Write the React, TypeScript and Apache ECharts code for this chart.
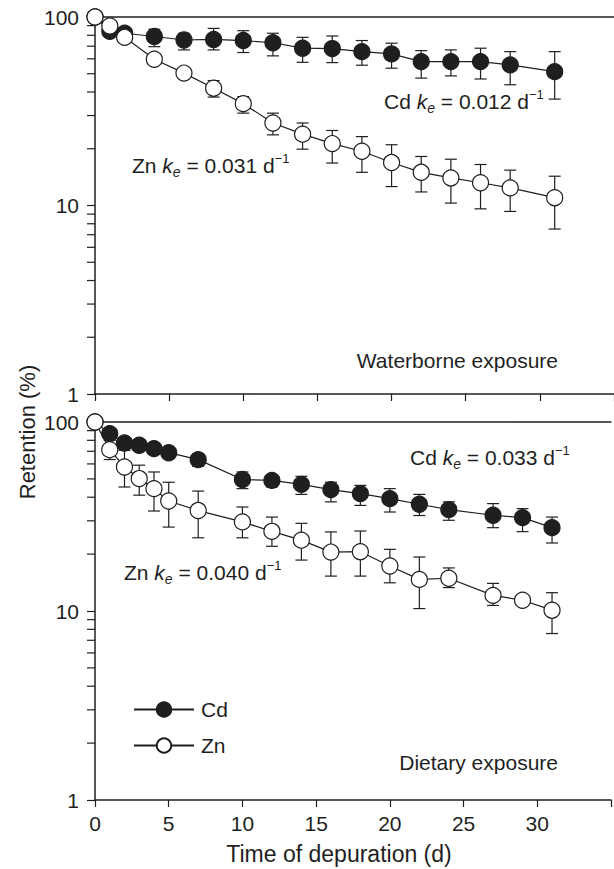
import React, { useEffect, useRef } from 'react';
import * as echarts from 'echarts';

// ---------- data ----------
const waterDays = [0, 1, 2, 4, 6, 8, 10, 12, 14, 16, 18, 20, 22, 24, 26, 28, 31];
const waterCd = [100, 84, 82, 78.8, 75.5, 76, 75, 73, 68.3, 68, 65.5, 63.7, 58, 58, 58, 55.7, 51.3];
const waterCdLow = [100, 84, 82, 69.6, 66.9, 66.9, 64.8, 62.2, 57.5, 57.3, 55.5, 53.5, 47.4, 48.7, 46.9, 43.7, 36.7];
const waterCdHigh = [100, 84, 82, 86.1, 82, 87, 84.6, 82, 78, 79.3, 75, 72.6, 66.3, 66.9, 68.3, 65.5, 65.5];
const waterZn = [100, 89.6, 78, 59.7, 50.4, 41.9, 34.7, 27.4, 23.9, 21.3, 19.4, 16.9, 15.0, 14.0, 13.2, 12.4, 11.0];
const waterZnLow = [100, 89.6, 78, 57, 47, 37.6, 30.9, 23.7, 19.9, 16.8, 15, 12.6, 11.8, 10.3, 9.6, 9.3, 7.5];
const waterZnHigh = [100, 89.6, 78, 62, 53, 46, 37.8, 30.9, 27.4, 25, 23.2, 21, 18.2, 17.6, 16.5, 15.4, 14.3];

const dietDays = [0, 1, 2, 3, 4, 5, 7, 10, 12, 14, 16, 18, 20, 22, 24, 27, 29, 31];
const dietCd = [100, 86.8, 77.4, 75.3, 72.3, 68.8, 63.2, 49.6, 49.1, 46.8, 43.9, 41.8, 39.3, 36.7, 34.4, 32.1, 31.2, 27.6];
const dietCdLow = [100, 83, 73, 71, 68, 64.5, 58.3, 44.4, 45.3, 41.4, 37.8, 36.2, 33.4, 32.0, 30.2, 27.6, 26.3, 22.9];
const dietCdHigh = [100, 90, 82, 79.5, 77, 73, 68, 54.4, 51.2, 51.6, 48, 46.2, 44.4, 41.4, 37.8, 37, 34.8, 31.4];
const dietZn = [100, 71.4, 57.8, 50.2, 44.4, 38.2, 34.0, 29.6, 26.4, 23.7, 20.5, 20.6, 17.3, 14.7, 14.9, 12.1, 11.4, 10.1];
const dietZnLow = [100, 63.3, 45.3, 41.0, 33.8, 27.8, 24.4, 24.4, 22.0, 18.6, 15.3, 15.3, 14.1, 10.3, 13.3, 10.7, 11.4, 7.6];
const dietZnHigh = [100, 80, 70.8, 59.1, 54.4, 48, 43.1, 35.5, 31.4, 29.1, 26.2, 26.5, 21.2, 19.3, 16.9, 14.0, 11.4, 12.5];

const minorTickValues = [2, 3, 4, 5, 6, 7, 8, 9, 20, 30, 40, 50, 60, 70, 80, 90];

const panelNames = ['Waterborne exposure', 'Dietary exposure'];
const kLabels = [
  { metal: 'Cd', k: '0.012' },
  { metal: 'Zn', k: '0.031' },
  { metal: 'Cd', k: '0.033' },
  { metal: 'Zn', k: '0.040' },
];

const FONT = '"Liberation Sans", Arial, Helvetica, sans-serif';
const INK = '#1f1f1f';
const FS = 21;

function errorRender(params: any, api: any) {
  const x = api.value(0);
  const lo = api.value(1);
  const hi = api.value(2);
  if (hi - lo < 1e-6) return { type: 'group', children: [] };
  const a = api.coord([x, lo]);
  const b = api.coord([x, hi]);
  const w = 6;
  const st = { stroke: INK, lineWidth: 1.2 };
  return {
    type: 'group',
    children: [
      { type: 'line', shape: { x1: a[0], y1: a[1], x2: b[0], y2: b[1] }, style: st },
      { type: 'line', shape: { x1: a[0] - w, y1: a[1], x2: a[0] + w, y2: a[1] }, style: st },
      { type: 'line', shape: { x1: b[0] - w, y1: b[1], x2: b[0] + w, y2: b[1] }, style: st },
    ],
  };
}

function minorTickRender(params: any, api: any) {
  const p = api.coord([0, api.value(1)]);
  return {
    type: 'line',
    shape: { x1: p[0] - 8, y1: p[1], x2: p[0], y2: p[1] },
    style: { stroke: INK, lineWidth: 1.2 },
  };
}

function kText(metal: string, k: string) {
  return `${metal} {i|k}{sub|e} = ${k} d{sup|−1}`;
}

const rich = {
  i: { fontStyle: 'italic', fontSize: FS, fontFamily: FONT, fill: INK, lineHeight: 27 },
  sub: { fontStyle: 'italic', fontSize: 14, fontFamily: FONT, fill: INK, lineHeight: 14, verticalAlign: 'bottom' },
  sup: { fontSize: 13, fontFamily: FONT, fill: INK, lineHeight: 13, verticalAlign: 'top' },
};

export default function App() {
  const ref = useRef<HTMLDivElement>(null);
  useEffect(() => {
    const chart = echarts.init(ref.current!, null, { renderer: 'svg' });

    const grids = [
      { left: 95, top: 17, height: 377, right: -3 },
      { left: 95, top: 422, height: 378, right: -3 },
    ];

    const axisLine = { show: true, lineStyle: { color: INK, width: 1.5 } };

    const xAxis: any[] = [];
    const yAxis: any[] = [];
    [0, 1].forEach((g) => {
      xAxis.push({
        type: 'value',
        gridIndex: g,
        min: 0,
        max: 35,
        interval: 5,
        position: 'bottom',
        axisLine,
        axisTick: { show: true, inside: false, length: 7, lineStyle: { color: INK, width: 1.2 } },
        axisLabel: {
          show: g === 1,
          fontSize: FS,
          color: INK,
          fontFamily: FONT,
          margin: 13,
          formatter: (v: number) => (v > 30 ? '' : String(v)),
        },
        splitLine: { show: false },
      });
      yAxis.push({
        type: 'log',
        logBase: 10,
        gridIndex: g,
        min: 1,
        max: 100,
        axisLine,
        axisTick: { show: true, inside: false, length: 8, lineStyle: { color: INK, width: 1.2 } },
        axisLabel: { fontSize: FS, color: INK, fontFamily: FONT, margin: 16 },
        splitLine: { show: false },
      });
    });
    // top frame lines
    [0, 1].forEach((g) => {
      xAxis.push({
        type: 'value',
        gridIndex: g,
        min: 0,
        max: 35,
        position: 'top',
        axisLine,
        axisTick: { show: false },
        axisLabel: { show: false },
        splitLine: { show: false },
      });
    });

    const panels = [
      { days: waterDays, cd: waterCd, cdLo: waterCdLow, cdHi: waterCdHigh, zn: waterZn, znLo: waterZnLow, znHi: waterZnHigh },
      { days: dietDays, cd: dietCd, cdLo: dietCdLow, cdHi: dietCdHigh, zn: dietZn, znLo: dietZnLow, znHi: dietZnHigh },
    ];

    const series: any[] = [];
    panels.forEach((p, g) => {
      series.push({
        type: 'custom',
        xAxisIndex: g,
        yAxisIndex: g,
        clip: false,
        silent: true,
        z: 1,
        renderItem: minorTickRender,
        data: minorTickValues.map((v) => [0, v]),
      });
      series.push({
        type: 'custom',
        xAxisIndex: g,
        yAxisIndex: g,
        silent: true,
        z: 1,
        renderItem: errorRender,
        encode: { x: 0, y: [1, 2] },
        data: p.days.map((d, i) => [d, p.cdLo[i], p.cdHi[i]]),
      });
      series.push({
        type: 'custom',
        xAxisIndex: g,
        yAxisIndex: g,
        silent: true,
        z: 1,
        renderItem: errorRender,
        encode: { x: 0, y: [1, 2] },
        data: p.days.map((d, i) => [d, p.znLo[i], p.znHi[i]]),
      });
      series.push({
        name: 'Cd',
        type: 'line',
        xAxisIndex: g,
        yAxisIndex: g,
        z: 3,
        symbol: 'circle',
        symbolSize: 16,
        showSymbol: true,
        itemStyle: { color: INK, borderColor: INK, borderWidth: 1.2 },
        lineStyle: { color: INK, width: 1.2 },
        emphasis: { disabled: true },
        data: p.days.map((d, i) => [d, p.cd[i]]),
      });
      series.push({
        name: 'Zn',
        type: 'line',
        xAxisIndex: g,
        yAxisIndex: g,
        z: 4,
        symbol: 'circle',
        symbolSize: 16,
        showSymbol: true,
        itemStyle: { color: '#ffffff', borderColor: INK, borderWidth: 1.2 },
        lineStyle: { color: INK, width: 1.2 },
        emphasis: { disabled: true },
        data: p.days.map((d, i) => [d, p.zn[i]]),
      });
    });

    const kPos = [
      { x: 384, y: 101 },
      { x: 132, y: 165 },
      { x: 410, y: 457 },
      { x: 124, y: 572 },
    ];

    const graphic: any[] = [
      ...kLabels.map((kl, i) => ({
        type: 'text',
        x: kPos[i].x,
        y: kPos[i].y,
        silent: true,
        style: {
          text: kText(kl.metal, kl.k),
          rich,
          fontSize: FS,
          fontFamily: FONT,
          fill: INK,
          align: 'left',
          verticalAlign: 'middle',
        },
      })),
      {
        type: 'text',
        x: 558,
        y: 360,
        style: { text: panelNames[0], fontSize: FS, fontFamily: FONT, fill: INK, align: 'right', verticalAlign: 'middle' },
      },
      {
        type: 'text',
        x: 558,
        y: 762,
        style: { text: panelNames[1], fontSize: FS, fontFamily: FONT, fill: INK, align: 'right', verticalAlign: 'middle' },
      },
      {
        type: 'text',
        x: 339,
        y: 854,
        style: { text: 'Time of depuration (d)', fontSize: 23, fontFamily: FONT, fill: INK, align: 'center', verticalAlign: 'middle' },
      },
      {
        type: 'text',
        x: 27,
        y: 432,
        rotation: Math.PI / 2,
        style: { text: 'Retention (%)', fontSize: 22, fontFamily: FONT, fill: INK, align: 'center', verticalAlign: 'middle' },
      },
    ];

    chart.setOption({
      animation: false,
      backgroundColor: '#ffffff',
      grid: grids,
      xAxis,
      yAxis,
      legend: {
        data: ['Cd', 'Zn'],
        orient: 'vertical',
        left: 128,
        top: 694,
        itemWidth: 60,
        itemHeight: 18,
        itemGap: 15,
        selectedMode: false,
        textStyle: { fontSize: FS, color: INK, fontFamily: FONT, padding: [0, 0, 0, 2] },
      },
      series,
      graphic,
    });
    return () => chart.dispose();
  }, []);
  return <div ref={ref} style={{ position: 'fixed', left: 0, top: 0, width: 614, height: 869 }} />;
}
